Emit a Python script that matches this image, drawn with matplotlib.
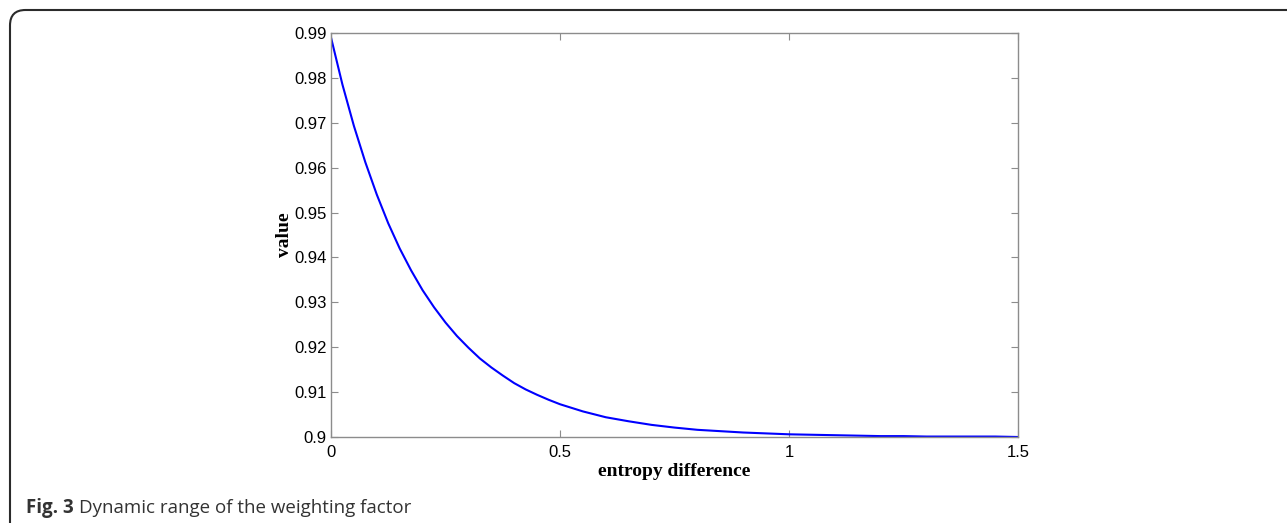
import matplotlib
matplotlib.use("Agg")
import matplotlib.pyplot as plt
from matplotlib.patches import FancyBboxPatch

# Data
entropy_diff = [0.0, 0.025, 0.05, 0.075, 0.10, 0.125, 0.15, 0.175, 0.20, 0.225,
                0.25, 0.275, 0.30, 0.325, 0.35, 0.375, 0.40, 0.425, 0.45, 0.475,
                0.50, 0.55, 0.60, 0.65, 0.70, 0.75, 0.80, 0.85, 0.90, 0.95,
                1.00, 1.05, 1.10, 1.15, 1.20, 1.25, 1.30, 1.35, 1.40, 1.45, 1.50]
value = [0.9890, 0.9785, 0.9693, 0.9612, 0.9540, 0.9476, 0.9420, 0.9371, 0.9327, 0.9289,
         0.9255, 0.9225, 0.9199, 0.9175, 0.9155, 0.9137, 0.9120, 0.9106, 0.9094, 0.9083,
         0.9073, 0.9057, 0.9044, 0.9035, 0.9027, 0.9021, 0.9016, 0.9013, 0.9010, 0.9008,
         0.9006, 0.9005, 0.9004, 0.9003, 0.9002, 0.9002, 0.9001, 0.9001, 0.9001, 0.9001, 0.9000]
x_ticks = [0, 0.5, 1, 1.5]
x_tick_labels = ["0", "0.5", "1", "1.5"]
y_ticks = [0.90, 0.91, 0.92, 0.93, 0.94, 0.95, 0.96, 0.97, 0.98, 0.99]
y_tick_labels = ["0.9", "0.91", "0.92", "0.93", "0.94", "0.95", "0.96", "0.97", "0.98", "0.99"]
caption_bold = "Fig. 3"
caption_text = "Dynamic range of the weighting factor"

W, H = 1287, 523
fig = plt.figure(figsize=(W / 100, H / 100), dpi=100)

# frame around the figure (rounded corner at left)
frame = FancyBboxPatch((10 / W, -20 / H), (W + 40) / W, (H + 10) / H,
                       boxstyle="round,pad=0,rounding_size=0.012",
                       transform=fig.transFigure, fill=False,
                       edgecolor="#2b2b2b", linewidth=1.5, mutation_aspect=W / H)
fig.patches.append(frame)

ax = fig.add_axes([331 / W, 1 - 437 / H, (1018 - 331) / W, (437 - 33) / H])
ax.plot(entropy_diff, value, color="#0000ff", linewidth=1.5)
ax.set_xlim(0, 1.5)
ax.set_ylim(0.9, 0.99)
ax.set_xticks(x_ticks)
ax.set_xticklabels(x_tick_labels)
ax.set_yticks(y_ticks)
ax.set_yticklabels(y_tick_labels)

for s in ax.spines.values():
    s.set_color("#8c8c8c")
    s.set_linewidth(1.0)
ax.tick_params(direction="in", length=5, width=0.8, color="#8c8c8c",
               top=True, right=True, labelsize=12, labelcolor="black", pad=3)
ax.tick_params(axis="x", pad=6)
for lab in ax.get_xticklabels() + ax.get_yticklabels():
    lab.set_fontfamily("Liberation Sans")

ax.set_xlabel("entropy difference", fontfamily="Liberation Serif", fontweight="bold",
              fontsize=14, labelpad=2)
ax.set_ylabel("value", fontfamily="Liberation Serif", fontweight="bold",
              fontsize=14, labelpad=1)

t1 = fig.text(26 / W, 1 - 513 / H, caption_bold, fontfamily="Open Sans",
              fontweight="bold", fontsize=13.5, color="#333333", va="baseline", ha="left")
fig.canvas.draw()
bb = t1.get_window_extent()
fig.text((bb.x1 + 5) / W, 1 - 513 / H, caption_text, fontfamily="Open Sans",
         fontsize=13.5, color="#333333", va="baseline", ha="left")

fig.savefig("out.png", dpi=100)
